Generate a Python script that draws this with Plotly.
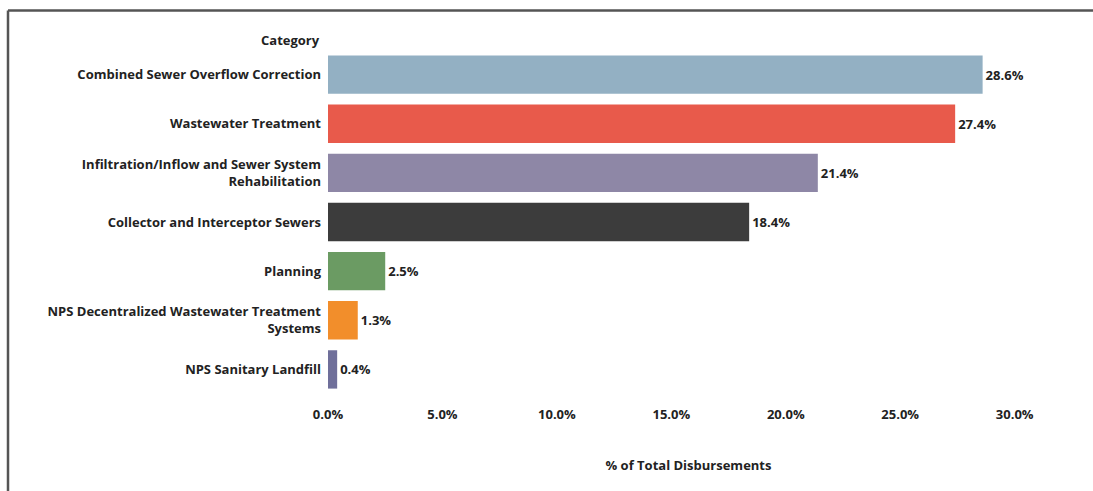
import plotly.graph_objects as go

# Share of total disbursements by project category
categories = [
    "Combined Sewer Overflow Correction",
    "Wastewater Treatment",
    "Infiltration/Inflow and Sewer System<br>Rehabilitation",
    "Collector and Interceptor Sewers",
    "Planning",
    "NPS Decentralized Wastewater Treatment<br>Systems",
    "NPS Sanitary Landfill",
]
pct_values = [28.6, 27.4, 21.4, 18.4, 2.5, 1.3, 0.4]
bar_colors = ["#93B0C3", "#E85A4B", "#8E87A6", "#3C3C3C", "#6B9B63", "#F28E2B", "#6F6F9A"]

tick_vals = [0, 5, 10, 15, 20, 25, 30]
tick_text = ["0.0%", "5.0%", "10.0%", "15.0%", "20.0%", "25.0%", "30.0%"]

FONT = "Open Sans"
TEXT_COLOR = "#222222"
FS = 13

# plot-area geometry in pixels
W, H = 1093, 491
L, R, T, B = 328, 44, 50, 97
plot_w = W - L - R
plot_h = H - T - B


def px_to_paper_x(px):
    return (px - L) / plot_w


def px_to_paper_y(py):
    return (H - B - py) / plot_h


bold = dict(family=FONT, size=FS, color=TEXT_COLOR, weight="bold")

fig = go.Figure(
    go.Bar(
        x=pct_values,
        y=categories,
        orientation="h",
        marker=dict(color=bar_colors, line=dict(width=0)),
        text=[f"{v:.1f}%" for v in pct_values],
        textposition="outside",
        textfont=bold,
        cliponaxis=False,
        hoverinfo="skip",
    )
)

fig.update_layout(
    width=W,
    height=H,
    margin=dict(l=L, r=R, t=T, b=B, autoexpand=False),
    paper_bgcolor="white",
    plot_bgcolor="white",
    bargap=0.22,
    showlegend=False,
    font=dict(family=FONT, size=FS, color=TEXT_COLOR),
    xaxis=dict(
        range=[0, 31.5],
        tickvals=tick_vals,
        ticktext=tick_text,
        showgrid=False,
        zeroline=False,
        showline=False,
        ticks="",
        ticklabelstandoff=11,
        tickfont=bold,
        title=dict(text="% of Total Disbursements", font=bold, standoff=38),
        automargin=False,
        fixedrange=True,
    ),
    yaxis=dict(
        autorange="reversed",
        showgrid=False,
        zeroline=False,
        showline=False,
        ticks="",
        ticklabelstandoff=6,
        tickfont=bold,
        automargin=False,
        fixedrange=True,
    ),
    annotations=[
        dict(
            text="Category",
            xref="paper",
            yref="paper",
            x=px_to_paper_x(322),
            y=px_to_paper_y(40),
            xanchor="right",
            yanchor="middle",
            showarrow=False,
            font=bold,
        )
    ],
    shapes=[
        # frame: top and left edges
        dict(
            type="line",
            xref="paper",
            yref="paper",
            x0=px_to_paper_x(8),
            x1=px_to_paper_x(W + 5),
            y0=px_to_paper_y(10.5),
            y1=px_to_paper_y(10.5),
            line=dict(color="#555555", width=2.5),
        ),
        dict(
            type="line",
            xref="paper",
            yref="paper",
            x0=px_to_paper_x(8),
            x1=px_to_paper_x(8),
            y0=px_to_paper_y(10.5),
            y1=px_to_paper_y(H + 5),
            line=dict(color="#555555", width=2.5),
        ),
    ],
)

fig.write_html("out.html")
